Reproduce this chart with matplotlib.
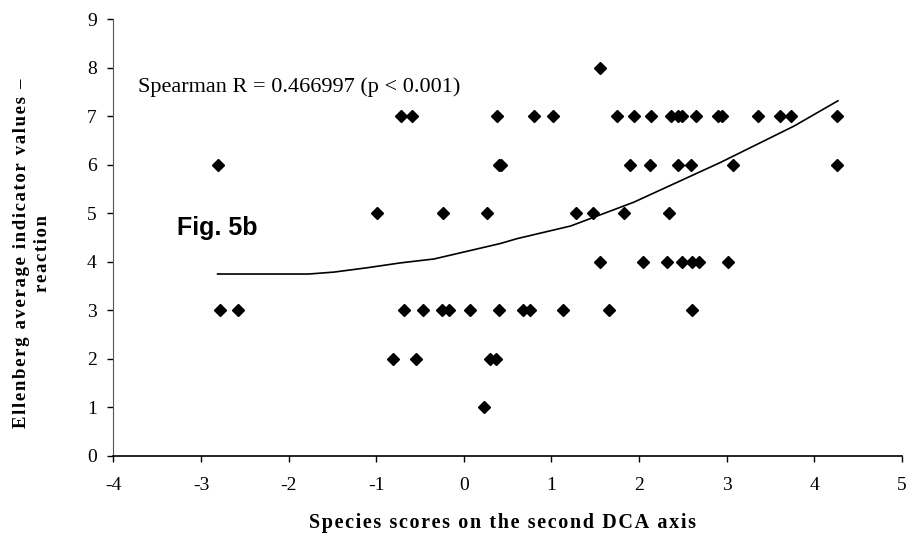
import numpy as np
import matplotlib
matplotlib.use("Agg")
import matplotlib.pyplot as plt

plt.rcParams["axes.unicode_minus"] = False

# species scores (second DCA axis) and Ellenberg reaction values
dca_x = [-2.80, -0.99, -0.24, 0.27, 0.40, 1.28, 1.48, 1.83, 2.34,
         -0.72, -0.59, 0.38, 0.80, 1.02, 1.75, 1.94, 2.14, 2.36, 2.44, 2.49,
         2.65, 2.90, 2.95, 3.36, 3.61, 3.73, 4.26,
         1.55,
         0.43, 1.90, 2.12, 2.45, 2.59, 3.07, 4.26,
         1.55, 2.05, 2.32, 2.49, 2.61, 2.68, 3.02,
         -2.78, -2.58, -0.68, -0.46, -0.25, -0.17, 0.07, 0.40, 0.68, 0.76, 1.13, 1.66, 2.61,
         -0.81, -0.55, 0.30, 0.37,
         0.23]
reaction = [6, 5, 5, 5, 6, 5, 5, 5, 5,
            7, 7, 7, 7, 7, 7, 7, 7, 7, 7, 7,
            7, 7, 7, 7, 7, 7, 7,
            8,
            6, 6, 6, 6, 6, 6, 6,
            4, 4, 4, 4, 4, 4, 4,
            3, 3, 3, 3, 3, 3, 3, 3, 3, 3, 3, 3, 3,
            2, 2, 2, 2,
            1]

# smoothed fit line
fit_x = [-2.81, -1.77, -1.48, -1.10, -0.72, -0.34, 0.04, 0.42, 0.61, 1.22, 1.94, 2.93, 3.77, 4.27]
fit_y = [3.75, 3.75, 3.79, 3.88, 3.98, 4.06, 4.22, 4.38, 4.48, 4.74, 5.23, 6.05, 6.80, 7.32]

x_ticks = [-4, -3, -2, -1, 0, 1, 2, 3, 4, 5]
y_ticks = [0, 1, 2, 3, 4, 5, 6, 7, 8, 9]

serif = ["Liberation Serif", "DejaVu Serif"]
hair = "\u200a"


def spaced(s):
    # rough letter spacing with hair spaces
    return hair.join(s)


fig = plt.figure(figsize=(9.11, 5.40), dpi=100)
ax = fig.add_axes([0.1244, 0.1556, 0.8656, 0.8087])

ax.plot(fit_x, fit_y, color="black", lw=1.2, zorder=2)
ax.plot(dca_x, reaction, linestyle="none", marker="D", ms=6.2,
        color="black", zorder=3)

ax.set_xlim(-4, 5)
ax.set_ylim(0, 9)
ax.set_xticks(x_ticks)
ax.set_yticks(y_ticks)
ax.spines["top"].set_visible(False)
ax.spines["right"].set_visible(False)
ax.spines["left"].set_color("#555555")
ax.spines["bottom"].set_linewidth(1.2)
ax.tick_params(direction="out", length=4, width=1, labelsize=14)
ax.tick_params(axis="x", pad=11)
ax.tick_params(axis="y", pad=8)
for lab in ax.get_xticklabels() + ax.get_yticklabels():
    lab.set_fontfamily(serif)

fig.text(0.5516, 0.0315, spaced("Species scores on the second DCA axis"),
         family=serif, fontweight="bold", fontsize=14.5, ha="center", va="center")
fig.text(0.035, 0.5306,
         spaced("Ellenberg average indicator values \u2013") + "\n" + spaced("reaction"),
         family=serif, fontweight="bold", fontsize=13.5, rotation=90,
         ha="center", va="center", multialignment="center", linespacing=1.3)

ax.text(-3.72, 7.6, "Spearman R = 0.466997 (p < 0.001)", family=serif,
        fontsize=16, va="center")
ax.text(-3.27, 4.69, "Fig. 5b", family="Liberation Sans", fontweight="bold",
        fontsize=18, va="center")

fig.savefig("out.png", dpi=100)
